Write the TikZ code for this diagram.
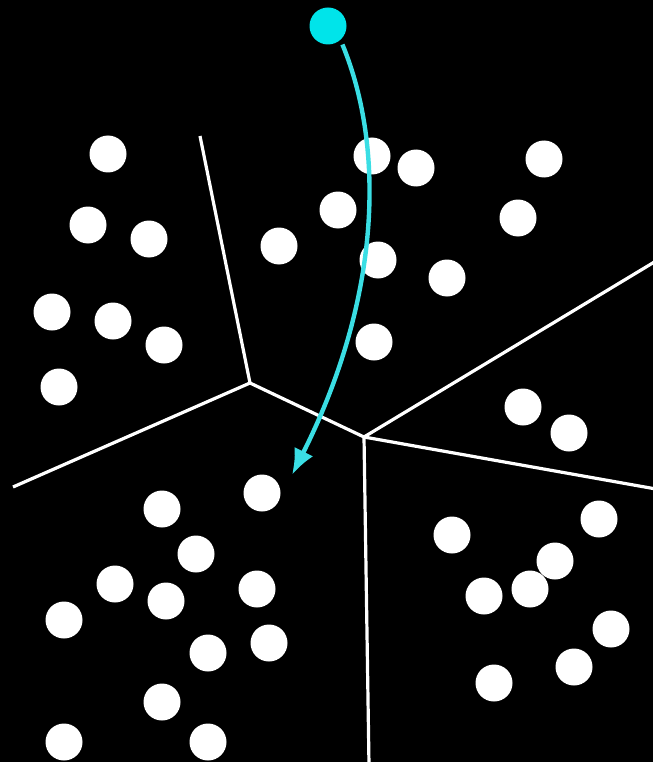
\documentclass[tikz,border=0pt]{standalone}
\usepackage{tikz}
\usetikzlibrary{arrows.meta}
\usepackage{xcolor}
\definecolor{dotcyan}{RGB}{0, 228, 234}
\definecolor{arrowcyan}{RGB}{58, 222, 228}

\begin{document}
\begin{tikzpicture}[x=1pt, y=-1pt, >={Latex[length=26pt,width=21pt]}]
    \tikzstyle{sample} = [circle, fill=white, inner sep=0pt, minimum size=37pt]
    \tikzstyle{query} = [circle, fill=dotcyan, inner sep=0pt, minimum size=37pt]
    \tikzstyle{border} = [draw=white, line width=3.2pt]

    \fill[black] (0,0) rectangle (653,762);
    \useasboundingbox (0,0) rectangle (653,762);

    % cell borders
    \coordinate (v1) at (250,383);
    \coordinate (v2) at (364,437);
    \coordinate (top) at (200,136);
    \coordinate (left) at (13,487);
    \coordinate (upright) at (656,261);
    \coordinate (downright) at (656,489);
    \coordinate (bottom) at (369,765);
    \draw[border] (top) -- (v1) -- (left);
    \draw[border] (v1) -- (v2);
    \draw[border] (v2) -- (upright);
    \draw[border] (v2) -- (downright);
    \draw[border] (v2) -- (bottom);

    % samples
    \foreach \x/\y [count=\i] in {108/154, 88/225, 149/239, 52/312, 113/321, 164/345, 59/387,
        279/246, 372/156, 416/168, 338/210, 378/260, 447/278, 374/342, 544/159, 518/218,
        523/407, 569/433,
        599/519, 452/535, 555/561, 530/589, 484/596, 611/629, 574/667, 494/683,
        262/493, 162/509, 196/554, 115/584, 166/601, 257/589, 64/620, 208/653, 269/643,
        162/702, 64/742, 208/742}
      \node[sample] (s\i) at (\x,\y) {};

    % query point
    \node[query] (q) at (328,26) {};
    \coordinate (hit) at (292,475);
    \draw[->, arrowcyan, line width=4.4pt, shorten <=5pt] (q.-48) .. controls (386,150) and (380,300) .. (hit);
\end{tikzpicture}
\end{document}
